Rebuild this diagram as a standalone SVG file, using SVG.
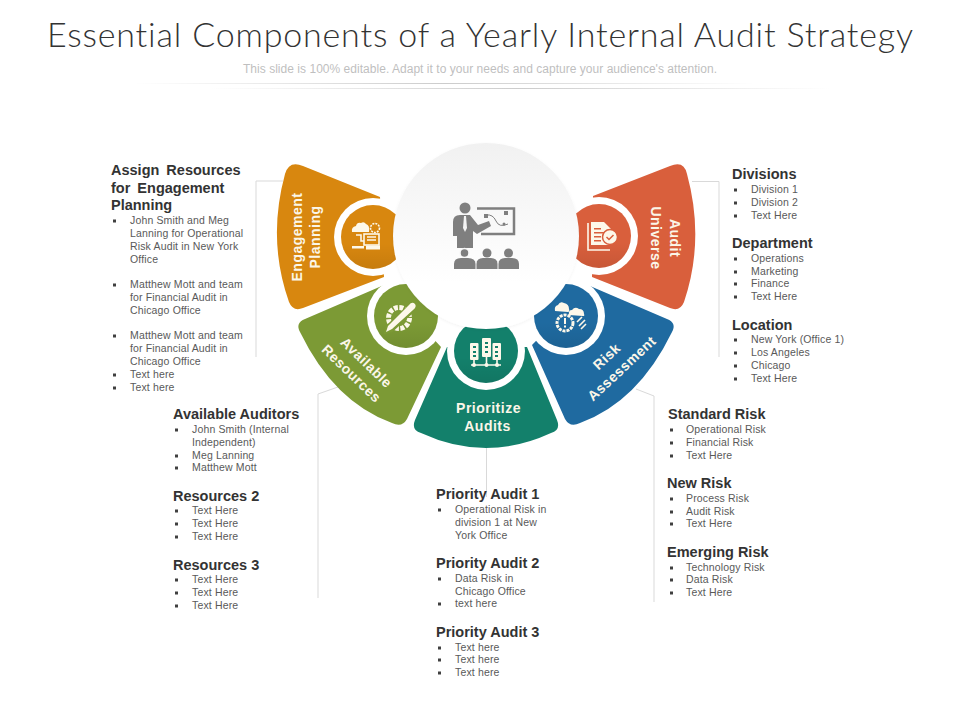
<svg xmlns="http://www.w3.org/2000/svg" width="960" height="720" viewBox="0 0 960 720">
<style>
text{font-family:"Liberation Sans",Arial,sans-serif}
.t{font-family:Lato,"Liberation Sans",sans-serif;font-size:34px;font-weight:300;fill:#333;font-variant-ligatures:none}
.s{font-size:12px;fill:#bfbfbf}
.h{font-size:14.500px;font-weight:bold;fill:#333}
.w{word-spacing:3px}
.b{font-size:10.500px;letter-spacing:.15px;fill:#595959}
.l{font-size:14px;font-weight:bold;fill:#fbf6e8;letter-spacing:.5px;text-anchor:middle}
.c{fill:none;stroke:#d9d9d9;stroke-width:1}
.r{fill:#fff}
.i{fill:#fdf8ea}
.o{fill:none;stroke:#fdf8ea;stroke-width:1.6}
.g{fill:#7f7f7f}
</style>
<defs>
<rect id="q" x="-3" y="-4.500" width="3" height="3" fill="#404040"/>
<linearGradient id="sep"><stop offset="0" stop-color="#ccc" stop-opacity="0"/><stop offset=".5" stop-color="#ccc"/><stop offset="1" stop-color="#ccc" stop-opacity="0"/></linearGradient>
<linearGradient id="shade" x1="0" y1="0" x2="0" y2="1"><stop offset=".6" stop-color="#000" stop-opacity="0"/><stop offset="1" stop-color="#000" stop-opacity=".08"/></linearGradient>
<linearGradient id="hub" x1="0" y1="0" x2="0" y2="1"><stop offset="0" stop-color="#f1f1f1"/><stop offset=".75" stop-color="#fff"/></linearGradient>
<filter id="sh" x="-10%" y="-10%" width="120%" height="120%"><feDropShadow dx="0" dy="1" stdDeviation="1.500" flood-color="#000" flood-opacity=".05"/></filter>
</defs>

<rect width="960" height="720" fill="#fff"/>
<g id="header">
<text class="t" x="47" y="47" textLength="866">Essential Components of a Yearly Internal Audit Strategy</text>
<text class="s" x="243" y="73" textLength="474">This slide is 100% editable. Adapt it to your needs and capture your audience's attention.</text>
<rect x="135" y="83" width="620" height="1" fill="url(#sep)"/>
<rect x="210" y="88" width="620" height="1" fill="url(#sep)"/>
</g>

<g id="connectors">
<path class="c" d="M283 181H256V357"/>
<path class="c" d="M338 387L318 394V598"/>
<path class="c" d="M486.500 448V497"/>
<path class="c" d="M636 389L654 396V602"/>
<path class="c" d="M692 181.500H719V357"/>
</g>

<g id="engagement-planning">
<path fill="#D8870F" d="M380 197L303 166Q289 160 285 174Q267 240 289 302Q293 312 303 308L384 277Z"/>
<circle class="r" cx="373" cy="237" r="39"/>
<circle fill="#D8870F" cx="373" cy="237" r="32"/>
<circle fill="url(#shade)" cx="373" cy="237" r="32"/>
<g>
<path class="i" d="M352 232q-1-5 4-6q1-4 5-3q3-2 5 1q4 1 3 8Z"/>
<circle class="o" cx="375" cy="228" r="4.500" stroke-dasharray="2 1"/>
<rect class="o" x="364" y="234" width="15" height="11"/>
<path class="o" d="M367 237h9M367 240h9M356 235h5v6h3"/>
<rect class="i" x="352" y="246" width="12" height="2.500"/>
<rect class="i" x="366" y="245.500" width="14" height="4"/>
</g>
<text class="l" transform="translate(302 237) rotate(-90)">Engagement</text>
<text class="l" transform="translate(320 237) rotate(-90)">Planning</text>
<g id="engagement-text">
<text class="h w" x="111" y="175">Assign Resources</text>
<text class="h w" x="111" y="193">for Engagement</text>
<text class="h" x="111" y="210">Planning</text>
<use href="#q" x="116" y="224"/><text class="b" x="130" y="224">John Smith  and Meg</text>
<text class="b" x="130" y="237">Lanning for Operational</text>
<text class="b" x="130" y="250">Risk Audit in New York</text>
<text class="b" x="130" y="263">Office</text>
<use href="#q" x="116" y="288"/><text class="b" x="130" y="288">Matthew Mott and team</text>
<text class="b" x="130" y="301">for Financial Audit in</text>
<text class="b" x="130" y="314">Chicago Office</text>
<use href="#q" x="116" y="339"/><text class="b" x="130" y="339">Matthew Mott and team</text>
<text class="b" x="130" y="352">for Financial Audit in</text>
<text class="b" x="130" y="365">Chicago Office</text>
<use href="#q" x="116" y="378"/><text class="b" x="130" y="378">Text here</text>
<use href="#q" x="116" y="391"/><text class="b" x="130" y="391">Text here</text>
</g>
</g>

<g id="available-resources">
<path fill="#7C9A35" d="M384 285L305 319Q295 323 300 332Q334 402 392 423Q402 428 407 419L441 347Z"/>
<circle class="r" cx="406" cy="316" r="39"/>
<circle fill="#7C9A35" cx="406" cy="316" r="32"/>
<circle fill="url(#shade)" cx="406" cy="316" r="32"/>
<g>
<circle cx="399" cy="318" r="10.500" fill="none" stroke="#fdf8ea" stroke-width="5" stroke-dasharray="4 1.500"/>
<path fill="#7C9A35" stroke="#7C9A35" stroke-width="2" d="M411 304L416 309L392 331L385 333L387 326Z"/>
<path class="i" d="M409 305Q412 301 415 304Q417 307 413 310L392 329L386 332L388 326Z"/>
</g>
<text class="l" transform="translate(363 366) rotate(44)">Available</text>
<text class="l" transform="translate(348 377) rotate(44)">Resources</text>
<g id="available-text">
<text class="h" x="173" y="419">Available Auditors</text>
<use href="#q" x="178" y="433"/><text class="b" x="192" y="433">John Smith (Internal</text>
<text class="b" x="192" y="446">Independent)</text>
<use href="#q" x="178" y="459"/><text class="b" x="192" y="459">Meg Lanning</text>
<use href="#q" x="178" y="471"/><text class="b" x="192" y="471">Matthew Mott</text>
<text class="h" x="173" y="501">Resources 2</text>
<use href="#q" x="178" y="514"/><text class="b" x="192" y="514">Text Here</text>
<use href="#q" x="178" y="527"/><text class="b" x="192" y="527">Text Here</text>
<use href="#q" x="178" y="540"/><text class="b" x="192" y="540">Text Here</text>
<text class="h" x="173" y="570">Resources 3</text>
<use href="#q" x="178" y="583"/><text class="b" x="192" y="583">Text Here</text>
<use href="#q" x="178" y="596"/><text class="b" x="192" y="596">Text Here</text>
<use href="#q" x="178" y="609"/><text class="b" x="192" y="609">Text Here</text>
</g>
</g>

<g id="prioritize-audits">
<path fill="#13806B" d="M447 347L415 420Q411 430 421 433Q486 463 551 433Q561 430 557 420L527 347Z"/>
<circle class="r" cx="486" cy="351" r="39"/>
<circle fill="#13806B" cx="486" cy="351" r="32"/>
<circle fill="url(#shade)" cx="486" cy="351" r="32"/>
<g>
<rect class="i" x="470" y="343" width="8.500" height="17" rx="1"/>
<rect class="i" x="482" y="338" width="9" height="19" rx="1"/>
<rect class="i" x="492.500" y="343" width="8.500" height="17" rx="1"/>
<path fill="#13806B" d="M473 346h3v2h-3zM473 351h3v2h-3zM473 355h3v2h-3zM485 342h3v2h-3zM485 346h3v2h-3zM485 351h3v2h-3zM495 346h3v2h-3zM495 351h3v2h-3zM495 355h3v2h-3z"/>
<path class="o" d="M471 365H501M474 360V365M486.500 357V365M497 360V365"/>
<circle class="i" cx="474" cy="365" r="2"/><circle class="i" cx="486.500" cy="365" r="2"/><circle class="i" cx="497" cy="365" r="2"/>
</g>
<text class="l" x="488.500" y="413">Prioritize</text>
<text class="l" x="487.500" y="431">Audits</text>
<g id="priority-text">
<text class="h" x="436" y="499">Priority Audit 1</text>
<use href="#q" x="441" y="513"/><text class="b" x="455" y="513">Operational Risk in</text>
<text class="b" x="455" y="526">division 1 at New</text>
<text class="b" x="455" y="539">York Office</text>
<text class="h" x="436" y="568">Priority Audit 2</text>
<use href="#q" x="441" y="582"/><text class="b" x="455" y="582">Data Risk in</text>
<text class="b" x="455" y="595">Chicago Office</text>
<use href="#q" x="441" y="607"/><text class="b" x="455" y="607">text here</text>
<text class="h" x="436" y="637">Priority Audit 3</text>
<use href="#q" x="441" y="651"/><text class="b" x="455" y="651">Text here</text>
<use href="#q" x="441" y="663"/><text class="b" x="455" y="663">Text here</text>
<use href="#q" x="441" y="676"/><text class="b" x="455" y="676">Text here</text>
</g>
</g>

<g id="risk-assessment">
<path fill="#1F6AA0" d="M590 286L667 319Q677 323 672 332Q638 402 580 423Q570 428 565 419L532 345Z"/>
<circle class="r" cx="566" cy="316" r="39"/>
<circle fill="#1F6AA0" cx="566" cy="316" r="32"/>
<circle fill="url(#shade)" cx="566" cy="316" r="32"/>
<g>
<path class="i" d="M555 311q-1-5 3-6q2-4 6-2q5 1 5 6q1 3 -1 3Z"/>
<path class="i" d="M569 315q-1-5 3-5q3-4 7-1q5 0 5 5q1 2 -1 2Z"/>
<circle cx="565" cy="323" r="8" fill="none" stroke="#fdf8ea" stroke-width="3" stroke-dasharray="3 1"/>
<path class="i" d="M564 318h2v6h-2zM564 325.500h2v2h-2z"/>
<path class="o" stroke-width="1" d="M577 322L582 317M579 326L585 320M581 329L586 324"/>
</g>
<text class="l" transform="translate(610 360) rotate(-43)">Risk</text>
<text class="l" transform="translate(625 372) rotate(-43)">Assessment</text>
<g id="risk-text">
<text class="h" x="668" y="419">Standard Risk</text>
<use href="#q" x="673" y="433"/><text class="b" x="686" y="433">Operational Risk</text>
<use href="#q" x="673" y="446"/><text class="b" x="686" y="446">Financial Risk</text>
<use href="#q" x="673" y="459"/><text class="b" x="686" y="459">Text Here</text>
<text class="h" x="667" y="488">New Risk</text>
<use href="#q" x="673" y="502"/><text class="b" x="686" y="502">Process Risk</text>
<use href="#q" x="673" y="515"/><text class="b" x="686" y="515">Audit Risk</text>
<use href="#q" x="673" y="527"/><text class="b" x="686" y="527">Text Here</text>
<text class="h" x="667" y="557">Emerging Risk</text>
<use href="#q" x="673" y="571"/><text class="b" x="686" y="571">Technology Risk</text>
<use href="#q" x="673" y="583"/><text class="b" x="686" y="583">Data Risk</text>
<use href="#q" x="673" y="596"/><text class="b" x="686" y="596">Text Here</text>
</g>
</g>

<g id="audit-universe">
<path fill="#D95F3C" d="M593 196L670 166Q684 160 687 174Q705 240 684 302Q680 312 670 308L592 277Z"/>
<circle class="r" cx="599" cy="236" r="39"/>
<circle fill="#D95F3C" cx="599" cy="236" r="32"/>
<circle fill="url(#shade)" cx="599" cy="236" r="32"/>
<g>
<path class="o" d="M588 223V250H610"/>
<path class="i" d="M591 222H604L611 229V245H591Z"/>
<path fill="#D95F3C" d="M594 228h7v1.500h-7zM594 232h10v1.500h-10zM594 236h7v1.500h-7zM594 240h7v1.500h-7z"/>
<circle class="i" stroke="#D95F3C" stroke-width="1.500" cx="610" cy="237" r="7.500"/>
<path fill="none" stroke="#D95F3C" stroke-width="1.500" d="M606.500 237l2.500 2.500l4.500-4.500"/>
</g>
<text class="l" transform="translate(670 238) rotate(90)">Audit</text>
<text class="l" transform="translate(651 238) rotate(90)">Universe</text>
<g id="audit-text">
<text class="h" x="732" y="179">Divisions</text>
<use href="#q" x="737" y="193"/><text class="b" x="751" y="193">Division 1</text>
<use href="#q" x="737" y="206"/><text class="b" x="751" y="206">Division 2</text>
<use href="#q" x="737" y="219"/><text class="b" x="751" y="219">Text Here</text>
<text class="h" x="732" y="248">Department</text>
<use href="#q" x="737" y="262"/><text class="b" x="751" y="262">Operations</text>
<use href="#q" x="737" y="275"/><text class="b" x="751" y="275">Marketing</text>
<use href="#q" x="737" y="287"/><text class="b" x="751" y="287">Finance</text>
<use href="#q" x="737" y="300"/><text class="b" x="751" y="300">Text Here</text>
<text class="h" x="732" y="330">Location</text>
<use href="#q" x="737" y="343"/><text class="b" x="751" y="343">New York (Office 1)</text>
<use href="#q" x="737" y="356"/><text class="b" x="751" y="356">Los Angeles</text>
<use href="#q" x="737" y="369"/><text class="b" x="751" y="369">Chicago</text>
<use href="#q" x="737" y="382"/><text class="b" x="751" y="382">Text Here</text>
</g>
</g>

<g id="center-hub">
<circle cx="486" cy="236" r="93" fill="url(#hub)" filter="url(#sh)"/>
<g>
<circle class="g" cx="465" cy="208" r="5.500"/>
<path class="g" d="M453 222Q453 215 460 215H470L478 225L489 221L491 226L477 234L473 231V248H457V236H453Z"/>
<path fill="#f4f4f4" d="M464 216H466L467 228L465 232L463 228Z"/>
<path fill="none" stroke="#7f7f7f" stroke-width="2.500" d="M477 208.500H514V234H481"/>
<path fill="none" stroke="#7f7f7f" stroke-width="1" d="M486 215Q493 214 496 221T508 224"/>
<rect class="g" x="484" y="214" width="4" height="4"/><rect class="g" x="504" y="211" width="4" height="4"/><circle class="g" cx="504" cy="224" r="1.500"/>
<circle class="g" cx="464.500" cy="253" r="4.500" stroke="#f8f8f8" stroke-width="1.500"/>
<circle class="g" cx="487" cy="253" r="4.500"/>
<circle class="g" cx="508.500" cy="253" r="4.500"/>
<path class="g" d="M454 269V264Q454 258 461 258H468Q475 258 476 264Q477 258 483 258H491Q497 258 498 264Q499 258 505 258H512Q519 258 519 264V269Z"/>
<path fill="#f8f8f8" d="M475.500 262h1v7h-1zM497.500 262h1v7h-1z"/>
</g>
</g>
</svg>
